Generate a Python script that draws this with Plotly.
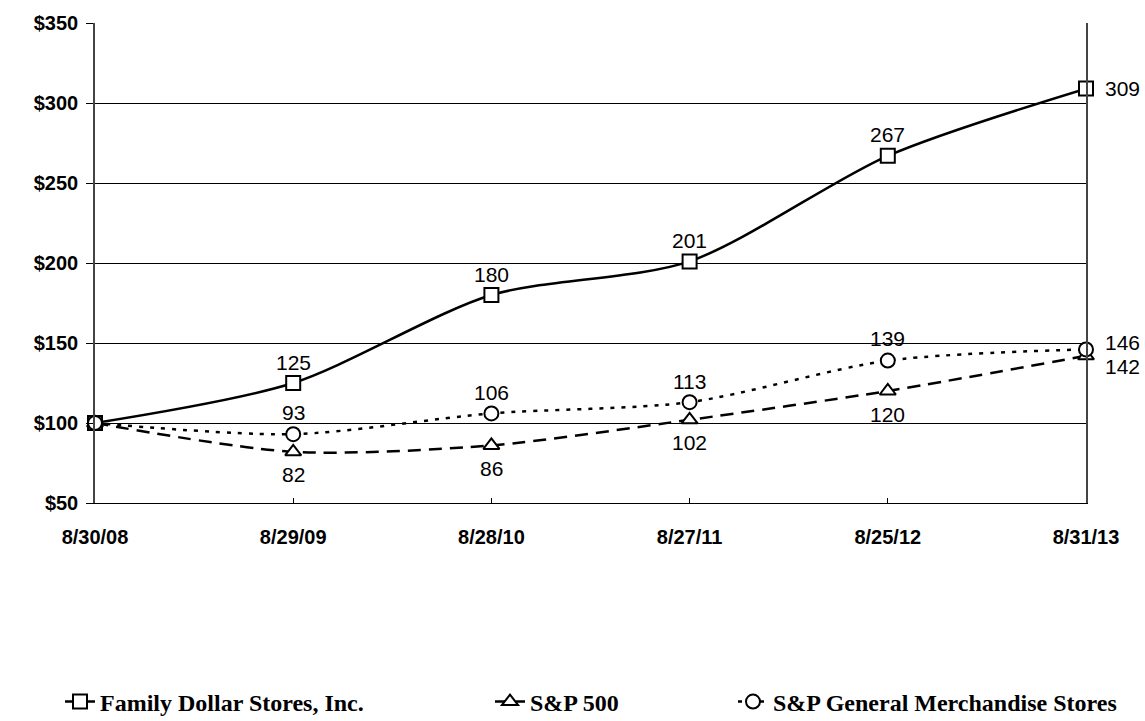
import plotly.graph_objects as go

dates = ["8/30/08", "8/29/09", "8/28/10", "8/27/11", "8/25/12", "8/31/13"]
family = [100, 125, 180, 201, 267, 309]
sp500 = [100, 82, 86, 102, 120, 142]
gm = [100, 93, 106, 113, 139, 146]
y_ticks = [50, 100, 150, 200, 250, 300, 350]
names = ["Family Dollar Stores, Inc.", "S&P 500", "S&P General Merchandise Stores"]

xs = list(range(len(dates)))

fig = go.Figure()
styles = [
    dict(dash="solid", symbol="square", legend="legend"),
    dict(dash="13px,8px", symbol="triangle-up", legend="legend2"),
    dict(dash="4px,7px", symbol="circle", legend="legend3"),
]
for vals, name, st in zip([family, sp500, gm], names, styles):
    fig.add_trace(go.Scatter(
        x=xs, y=vals, name=name, mode="lines+markers",
        line=dict(color="black", width=2.5, dash=st["dash"], shape="spline", smoothing=0.8),
        marker=dict(symbol=st["symbol"], size=14, color="white", line=dict(width=2, color="black")),
        cliponaxis=False, legend=st["legend"],
    ))

# label offsets (pixels): (xshift, yshift)
fam_off = [None, (0, 21), (0, 21), (0, 21), (0, 21), (17, 0)]
sp_off = [None, (0, -23), (0, -23), (0, -23), (0, -23), (17, -11)]
gm_off = [None, (0, 22), (0, 21), (0, 21), (0, 22), (17, 7)]
for vals, offs in [(family, fam_off), (sp500, sp_off), (gm, gm_off)]:
    for i, (v, o) in enumerate(zip(vals, offs)):
        if o is None:
            continue
        fig.add_annotation(
            x=xs[i], y=v, text=str(v), showarrow=False,
            xshift=o[0], yshift=o[1],
            xanchor="left" if o[0] > 0 else "center", yanchor="middle",
            font=dict(family="Liberation Sans, Arial", size=21, color="black"),
        )

legend_common = dict(
    orientation="h", xref="container", yref="container",
    yanchor="middle", y=(721 - 702) / 721,
    font=dict(family="Liberation Serif, Times New Roman", size=24, color="black", weight="bold"),
    bgcolor="rgba(0,0,0,0)", itemwidth=30,
)
fig.update_layout(
    width=1145, height=721,
    margin=dict(l=95, r=59, t=17, b=218),
    plot_bgcolor="white", paper_bgcolor="white",
    showlegend=True,
    legend=dict(x=(100 - 40) / 1145, **legend_common),
    legend2=dict(x=(530 - 40) / 1145, **legend_common),
    legend3=dict(x=(773 - 40) / 1145, **legend_common),
    xaxis=dict(
        range=[0, 5], tickvals=xs, ticktext=dates,
        showgrid=False, zeroline=False,
        showline=True, linecolor="black", linewidth=1, mirror=False,
        ticks="inside", ticklen=5, tickcolor="black",
        ticklabelstandoff=16,
        tickfont=dict(family="Liberation Sans, Arial", size=20, color="black", weight="bold"),
    ),
    yaxis=dict(
        range=[50, 350], tickvals=y_ticks, ticktext=[f"${v}" for v in y_ticks],
        showgrid=True, gridcolor="black", gridwidth=1, zeroline=False,
        showline=True, linecolor="#444", linewidth=1.5, mirror=True,
        ticks="outside", ticklen=7, tickcolor="black",
        ticklabelstandoff=4,
        tickfont=dict(family="Liberation Sans, Arial", size=20, color="black", weight="bold"),
    ),
)

fig.write_html("out.html")
